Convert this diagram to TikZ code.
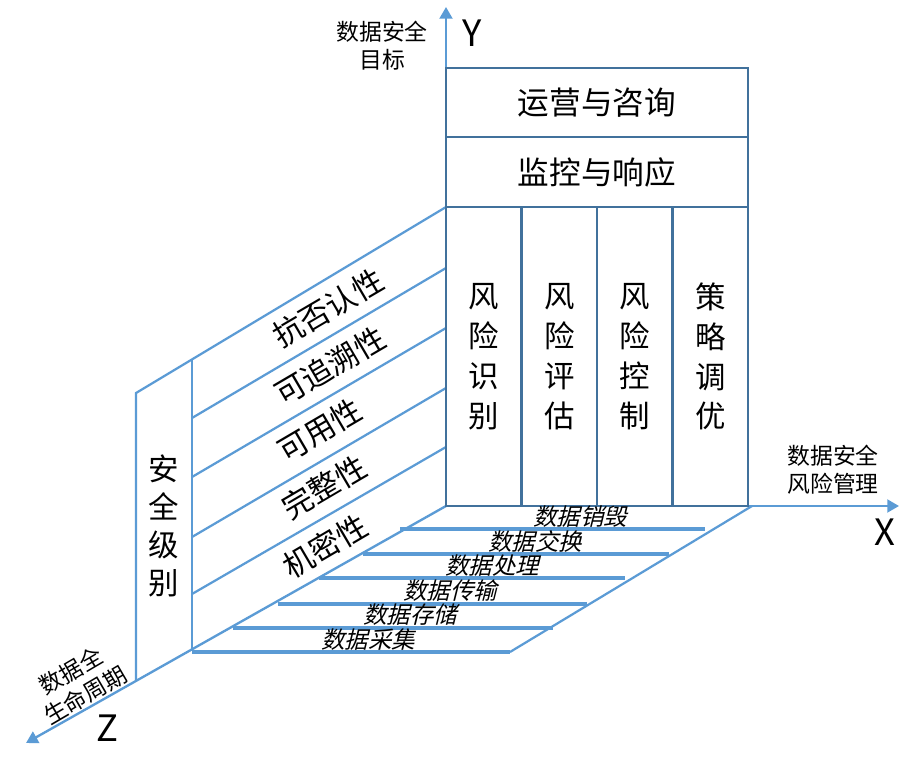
\documentclass[tikz,border=0pt]{standalone}
\usepackage{fontspec}
\setmainfont{Noto Sans CJK SC}
\newfontfamily\slantcjk[FakeSlant=0.25]{Noto Sans CJK SC}
\usetikzlibrary{arrows.meta}
\definecolor{axisblue}{HTML}{5B9BD5}
\definecolor{boxblue}{HTML}{41719C}
\tikzset{
  cell/.style={draw=boxblue, line width=1.8pt, align=center, inner sep=0pt},
  rowcell/.style={cell, minimum width=90.6mm, minimum height=20.85mm, font=\fontsize{27pt}{27pt}\selectfont},
  colcell/.style={cell, minimum width=22.65mm, minimum height=89.7mm, font=\fontsize{26pt}{34pt}\selectfont},
  axisline/.style={draw=axisblue, line width=2pt, -{Triangle[length=10pt, width=11pt]}},
  wallline/.style={draw=axisblue, line width=1.9pt},
  floorline/.style={draw=axisblue, line width=2.8pt},
  walllabel/.style={rotate=30.4, font=\fontsize{26pt}{26pt}\selectfont},
  levellabel/.style={align=center, font=\fontsize{26pt}{32.4pt}\selectfont},
  floorlabel/.style={font=\slantcjk\fontsize{20pt}{20pt}\selectfont},
  axislabel/.style={align=center, font=\fontsize{19.5pt}{24pt}\selectfont},
  axisname/.style={font=\fontsize{31pt}{31pt}\selectfont}
}
\begin{document}
\begin{tikzpicture}[x=0.03cm, y=-0.03cm]
  \useasboundingbox (0,0) rectangle (900,765);
  \coordinate (O) at (446,506);
  \coordinate (ytip) at (446,7);
  \coordinate (xtip) at (899,506);
  \coordinate (ztip) at (26,743);
  \draw[axisline] (O) -- (ytip);
  \draw[axisline] (O) -- (xtip);
  \draw[axisline] (O) -- (ztip);

  \draw[wallline] (446,207) -- (136,393) -- (136,681);
  \draw[wallline] (192,360) -- (192,650);
  \draw[wallline] (446,268) -- (192,418);
  \draw[wallline] (446,328) -- (192,477);
  \draw[wallline] (446,388) -- (192,537);
  \draw[wallline] (446,447) -- (192,594);

  \draw[wallline] (752,506) -- (510,652);
  \draw[floorline] (400,529) -- (705,529);
  \draw[floorline] (363,554) -- (669,554);
  \draw[floorline] (319,578) -- (625,578);
  \draw[floorline] (278,604) -- (587,604);
  \draw[floorline] (233,628) -- (553,628);
  \draw[floorline] (192,652) -- (510,652);

  \node[rowcell] (ops) at (597,102.5) {运营与咨询};
  \node[rowcell] (monitor) at (597,172) {监控与响应};
  \node[colcell] (identify) at (483.75,356.5) {风\\险\\识\\别};
  \node[colcell] (assess) at (559.25,356.5) {风\\险\\评\\估};
  \node[colcell] (control) at (634.75,356.5) {风\\险\\控\\制};
  \node[colcell] (tune) at (710.25,356.5) {策\\略\\调\\优};

  \node[walllabel] (nonrep) at (328,308) {抗否认性};
  \node[walllabel] (trace) at (330,366) {可追溯性};
  \node[walllabel] (avail) at (320,430) {可用性};
  \node[walllabel] (integ) at (324,487) {完整性};
  \node[walllabel] (confid) at (325,546) {机密性};
  \node[levellabel] (level) at (164,526) {安\\全\\级\\别};

  \node[floorlabel] (destroy) at (580,517) {数据销毁};
  \node[floorlabel] (exchange) at (535,542) {数据交换};
  \node[floorlabel] (process) at (492,566) {数据处理};
  \node[floorlabel] (transfer) at (450,591) {数据传输};
  \node[floorlabel] (store) at (410,615) {数据存储};
  \node[floorlabel] (collect) at (368,640) {数据采集};

  \node[axislabel] (ygoal) at (382,46) {数据安全\\目标};
  \node[axisname] (yname) at (472,33) {Y};
  \node[axislabel] (xrisk) at (833,470) {数据安全\\风险管理};
  \node[axisname] (xname) at (885,532) {X};
  \node[axislabel, rotate=30.4] (zlife) at (78,683) {数据全\\生命周期};
  \node[axisname] (zname) at (107,728) {Z};
\end{tikzpicture}
\end{document}
